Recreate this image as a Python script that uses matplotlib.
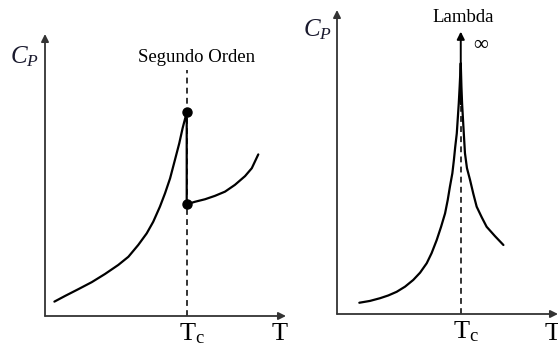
import matplotlib
matplotlib.use("Agg")
import matplotlib.pyplot as plt

plt.rcParams["font.family"] = ["Liberation Serif", "DejaVu Serif"]
plt.rcParams["mathtext.fontset"] = "custom"
plt.rcParams["mathtext.rm"] = "Liberation Serif"
plt.rcParams["mathtext.it"] = "Liberation Serif:italic"

# ---- second-order transition: Cp jumps at Tc ----
tc_2nd = 5.88
cp_jump_top = 7.22
cp_jump_bottom = 3.96
t_below = [0.39, 0.83, 1.38, 1.94, 2.49, 3.04, 3.46, 3.87, 4.22, 4.49, 4.77, 4.98,
           5.19, 5.39, 5.57, 5.71, 5.88]
cp_below = [0.51, 0.71, 0.95, 1.20, 1.49, 1.81, 2.10, 2.52, 2.93, 3.34, 3.88, 4.35,
            4.88, 5.53, 6.12, 6.66, 7.22]
t_above = [5.88, 6.22, 6.64, 7.05, 7.47, 7.88, 8.30, 8.58, 8.85]
cp_above = [3.96, 4.05, 4.14, 4.26, 4.41, 4.65, 4.96, 5.24, 5.73]

# ---- lambda transition: Cp diverges at Tc ----
tc_lambda = 5.6
t_lambda = [1.01, 1.49, 1.95, 2.32, 2.70, 3.08, 3.45, 3.76, 4.06, 4.28, 4.51, 4.71,
            4.89, 5.01, 5.11, 5.22, 5.29, 5.35, 5.42, 5.46, 5.51, 5.55, 5.6,
            5.63, 5.66, 5.72, 5.79, 5.88, 6.02, 6.17, 6.32, 6.55, 6.77, 7.15, 7.53]
cp_lambda = [0.37, 0.43, 0.52, 0.61, 0.73, 0.90, 1.12, 1.36, 1.67, 2.00, 2.43, 2.87,
             3.31, 3.75, 4.19, 4.63, 5.07, 5.50, 5.94, 6.38, 6.93, 7.48, 8.25,
             7.48, 6.93, 6.16, 5.29, 4.80, 4.41, 3.95, 3.53, 3.18, 2.87, 2.56, 2.27]

W, H = 558, 347
fig = plt.figure(figsize=(W / 100, H / 100), dpi=100)
fig.patch.set_facecolor("white")


def px_axes(x0, x1, y_bottom, y_top):
    return fig.add_axes([x0 / W, (H - y_bottom) / H, (x1 - x0) / W, (y_bottom - y_top) / H])


ax1 = px_axes(45, 286, 316, 34)
ax2 = px_axes(337, 558, 314, 10)

axis_color = "#333333"
for ax in (ax1, ax2):
    ax.set_xlim(0, 10)
    ax.set_ylim(0, 10)
    ax.axis("off")
    arrow = dict(arrowstyle="-|>", lw=1.3, color=axis_color, mutation_scale=11,
                 shrinkA=0, shrinkB=0)
    ax.annotate("", xy=(10, 0), xytext=(0, 0), arrowprops=arrow, annotation_clip=False)
    ax.annotate("", xy=(0, 10), xytext=(0, 0), arrowprops=arrow, annotation_clip=False)
    ax.text(-0.87, 9.2 if ax is ax1 else 9.35, r"$C_P$", fontsize=18,
            ha="center", va="center", color="#1a1a2e", clip_on=False)
    ax.text(9.75, -0.65, "T", fontsize=19, ha="center", va="center", clip_on=False)

# second-order panel
ax1.plot([tc_2nd, tc_2nd], [0, 8.72], ls=(0, (3, 2.2)), lw=1.4, color="#333333")
ax1.plot(t_below + [tc_2nd] + t_above,
         cp_below + [cp_jump_bottom] + cp_above,
         color="black", lw=1.6, solid_capstyle="round", solid_joinstyle="round")
ax1.plot([tc_2nd, tc_2nd], [cp_jump_top, cp_jump_bottom], "o", color="black",
         markersize=6.5)
ax1.text(6.27, 9.18, "Segundo Orden", fontsize=13.5, ha="center", va="center")
ax1.annotate(r"T$_{\mathrm{c}}$", xy=(tc_2nd, 0), xytext=(3.5, -4),
             textcoords="offset points", ha="center", va="top", fontsize=19,
             annotation_clip=False)

# lambda panel
ax2.plot([tc_lambda, tc_lambda], [0, 8.25], ls=(0, (3, 2.2)), lw=1.4, color="#333333")
ax2.plot(t_lambda, cp_lambda, color="black", lw=1.6,
         solid_capstyle="round", solid_joinstyle="round")
ax2.annotate("", xy=(tc_lambda, 9.29), xytext=(tc_lambda, 6.9),
             arrowprops=dict(arrowstyle="-|>", lw=1.4, color="black",
                             mutation_scale=11, shrinkA=0, shrinkB=0))
ax2.text(5.69, 9.74, "Lambda", fontsize=13.5, ha="center", va="center", clip_on=False)
ax2.text(6.52, 8.91, r"$\infty$", fontsize=15, ha="center", va="center")
ax2.annotate(r"T$_{\mathrm{c}}$", xy=(tc_lambda, 0), xytext=(3.5, -4),
             textcoords="offset points", ha="center", va="top", fontsize=19,
             annotation_clip=False)

fig.savefig("out.png", dpi=100, facecolor="white")
